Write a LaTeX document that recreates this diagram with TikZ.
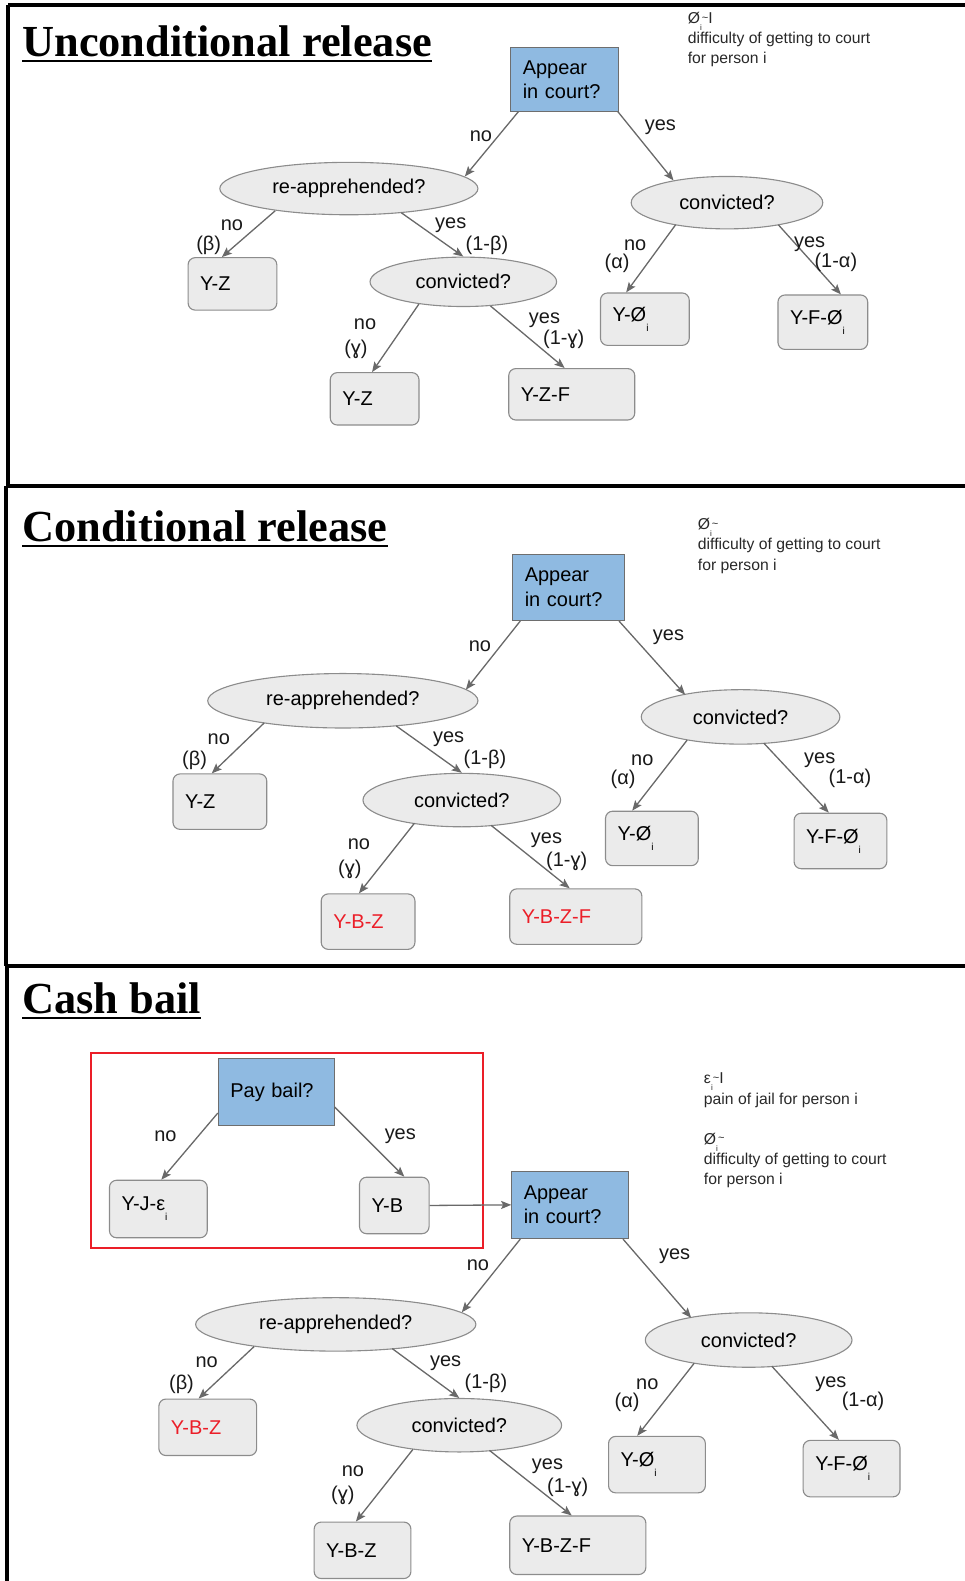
\documentclass[tikz,border=0pt]{standalone}
\usepackage{fontspec}
\setmainfont{Liberation Sans}
\newfontfamily\titlefont{Liberation Serif}
\usetikzlibrary{shapes.geometric,arrows.meta,calc}
\definecolor{bluefill}{RGB}{143,186,225}
\definecolor{qdraw}{RGB}{110,110,110}
\definecolor{leaffill}{RGB}{235,235,235}
\definecolor{leafdraw}{RGB}{140,140,140}
\definecolor{arrcol}{RGB}{105,105,105}
\definecolor{notecol}{RGB}{40,40,40}
\definecolor{redc}{RGB}{235,30,40}
\newcommand\labfont{\fontsize{19.8}{24}\selectfont}
\newcommand\notefont{\fontsize{15.6}{20}\selectfont}
\newcommand\lsub[1]{\raisebox{-0.5em}{\fontsize{10}{10}\selectfont #1}}
\newcommand\nsub[1]{\raisebox{-0.45em}{\fontsize{8}{8}\selectfont #1}}
\newcommand\tld{\raisebox{0.15em}{\fontsize{11}{11}\selectfont\textasciitilde}}
\tikzset{
  qbox/.style={draw=qdraw, fill=bluefill, line width=0.9pt, anchor=north west, inner xsep=12pt, inner ysep=0pt, align=left, font=\labfont},
  leaf/.style={draw=leafdraw, fill=leaffill, rounded corners=7pt, line width=1.1pt, anchor=north west, inner xsep=12pt, inner ysep=0pt, align=left, font=\labfont},
  ell/.style={ellipse, draw=leafdraw, fill=leaffill, line width=1.1pt, inner sep=0pt, font=\labfont},
  arr/.style={draw=arrcol, line width=1.3pt, -{Stealth[length=10pt,width=8pt,inset=2pt]}},
  lbl/.style={font=\labfont, inner sep=0pt, text=black!90, yshift=-2pt},
  note/.style={font=\notefont, text=notecol, anchor=north west, inner sep=0pt, align=left},
  ttl/.style={font=\titlefont\bfseries\fontsize{44}{44}\selectfont, anchor=base west, inner sep=0pt},
  frame/.style={line width=3.2pt, black},
  ulin/.style={line width=2.6pt, black},
}
\newcommand\leafnode[7]{\node[leaf,text width=#4pt,minimum height=#5pt,text=#6] (#1) at (#2,#3) {#7};}
\begin{document}
\begin{tikzpicture}[x=1pt,y=-1pt]
\useasboundingbox (0,0) rectangle (957,1568);
% frame
\draw[frame] (8,5) -- (957,5);
\draw[frame] (8,5) -- (8,482);
\draw[frame] (6,482) -- (957,482);
\draw[frame] (6,482) -- (6,958);
\draw[frame] (6,958) -- (957,958);
\draw[frame] (7,958) -- (7,1568);

% ================= Panel 1 =================
\node[ttl] (t1) at (22,56) {Unconditional release};
\draw[ulin] ($(t1.base west)+(0,4.5)$) -- ($(t1.base east)+(0,4.5)$);
\node[note] (n1) at (682,12) {Ø\nsub{i}\tld I\\difficulty of getting to court\\for person i};

\node[qbox, text width=83pt, minimum height=63pt] (ap1) at (506,47) {Appear\\in court?};
\node[ell, minimum width=256pt, minimum height=52pt] (ra1) at (346,187) {re-apprehended?};
\node[ell, minimum width=190pt, minimum height=52pt] (cv1) at (721,201) {convicted?};
\node[ell, minimum width=185pt, minimum height=49pt] (cv2) at (459.5,279.5) {convicted?};
\leafnode{yz1}{186}{255}{64}{52}{black}{Y-Z}
\leafnode{yz2}{327}{369}{64}{52}{black}{Y-Z}
\leafnode{yzf1}{504}{365}{101}{51}{black}{Y-Z-F}
\leafnode{yo1}{595}{290}{64}{52}{black}{Y-Ø\lsub{i}}
\leafnode{yfo1}{771}{292}{65}{54}{black}{Y-F-Ø\lsub{i}}

\draw[arr] ($(ap1.south west)+(8,0)$) -- ($(ra1)+(115,-12)$);
\draw[arr] ($(ap1.south east)+(-1,0)$) -- ($(cv1)+(-53,-22)$);
\draw[arr] ($(ra1)+(-73,22)$) -- ($(yz1.north west)+(34,0)$);
\draw[arr] ($(ra1)+(52,24)$) -- (cv2.north);
\draw[arr] ($(cv2)+(-44,22)$) -- ($(yz2.north west)+(42,0)$);
\draw[arr] ($(cv2)+(27,24)$) -- ($(yzf1.north west)+(56,0)$);
\draw[arr] ($(cv1)+(-51,22)$) -- ($(yo1.north west)+(26,0)$);
\draw[arr] ($(cv1)+(51,22)$) -- ($(yfo1.north west)+(63,0)$);

\node[lbl] (l1a) at (477,133) {no};
\node[lbl] (l1b) at (655,124) {yes};
\node[lbl] (l1c) at (230,221) {no};
\node[lbl] (l1d) at (207,241) {(β)};
\node[lbl] (l1e) at (447,221) {yes};
\node[lbl] (l1f) at (483,241) {(1-β)};
\node[lbl] (l1g) at (362,320) {no};
\node[lbl] (l1h) at (353,344) {(ɣ)};
\node[lbl] (l1i) at (540,316) {yes};
\node[lbl] (l1j) at (559,335) {(1-ɣ)};
\node[lbl] (l1k) at (630,241) {no};
\node[lbl] (l1l) at (612,259) {(α)};
\node[lbl] (l1m) at (803,240) {yes};
\node[lbl] (l1n) at (829,258) {(1-α)};

% ================= Panel 2 =================
\node[ttl] (t2) at (22,537) {Conditional release};
\draw[ulin] ($(t2.base west)+(0,4.5)$) -- ($(t2.base east)+(0,4.5)$);
\node[note] (n2) at (692,514) {Ø\nsub{i}\tld\\difficulty of getting to court\\for person i};

\node[qbox, text width=87pt, minimum height=66pt] (ap2) at (508,549) {Appear\\in court?};
\node[ell, minimum width=268pt, minimum height=54pt] (ra2) at (340,695) {re-apprehended?};
\node[ell, minimum width=197pt, minimum height=54pt] (cv3) at (734.5,711) {convicted?};
\node[ell, minimum width=196pt, minimum height=53pt] (cv4) at (458,793.5) {convicted?};
\leafnode{yz3}{171}{767}{69}{55}{black}{Y-Z}
\leafnode{ybz1}{318}{886}{69}{55}{redc}{Y-B-Z}
\leafnode{ybzf1}{505}{881}{107}{55}{redc}{Y-B-Z-F}
\leafnode{yo2}{600}{804}{68}{54}{black}{Y-Ø\lsub{i}}
\leafnode{yfo2}{787}{806}{68}{55}{black}{Y-F-Ø\lsub{i}}

\draw[arr] ($(ap2.south west)+(8,0)$) -- ($(ra2)+(122,-11)$);
\draw[arr] ($(ap2.south east)+(-6,0)$) -- ($(cv3)+(-55,-22)$);
\draw[arr] ($(ra2)+(-78,22)$) -- ($(yz3.north west)+(39,0)$);
\draw[arr] ($(ra2)+(53,25)$) -- (cv4.north);
\draw[arr] ($(cv4)+(-47,23)$) -- ($(ybz1.north west)+(38,0)$);
\draw[arr] ($(cv4)+(29,25)$) -- ($(ybzf1.north west)+(60,0)$);
\draw[arr] ($(cv3)+(-53,23)$) -- ($(yo2.north west)+(27,0)$);
\draw[arr] ($(cv3)+(23,26)$) -- ($(yfo2.north west)+(35,0)$);

\node[lbl] (l2a) at (476,639) {no};
\node[lbl] (l2b) at (663,630) {yes};
\node[lbl] (l2c) at (217,731) {no};
\node[lbl] (l2d) at (193,752) {(β)};
\node[lbl] (l2e) at (445,731) {yes};
\node[lbl] (l2f) at (481,751) {(1-β)};
\node[lbl] (l2g) at (356,835) {no};
\node[lbl] (l2h) at (347,860) {(ɣ)};
\node[lbl] (l2i) at (542,831) {yes};
\node[lbl] (l2j) at (562,852) {(1-ɣ)};
\node[lbl] (l2k) at (637,752) {no};
\node[lbl] (l2l) at (618,771) {(α)};
\node[lbl] (l2m) at (813,752) {yes};
\node[lbl] (l2n) at (843,770) {(1-α)};

% ================= Panel 3 =================
\node[ttl] (t3) at (22,1005) {Cash bail};
\draw[ulin] ($(t3.base west)+(0,4.5)$) -- ($(t3.base east)+(0,4.5)$);
\node[note] (n3) at (698,1064) {ε\nsub{i}\tld I\\pain of jail for person i\\[20pt]Ø\nsub{i}\tld\\difficulty of getting to court\\for person i};

\node[draw=redc, line width=2pt, minimum width=389pt, minimum height=194pt, anchor=north west, inner sep=0pt] (rb) at (89,1043) {};
\node[qbox, text width=91pt, minimum height=67pt] (pb) at (216,1049) {Pay bail?};
\leafnode{yj}{108}{1170}{73}{57}{black}{Y-J-ε\lsub{i}}
\leafnode{yb}{356}{1167}{45}{56}{black}{Y-B}
\node[qbox, text width=92pt, minimum height=67pt] (ap3) at (507,1161) {Appear\\in court?};
\node[ell, minimum width=278pt, minimum height=53pt] (ra3) at (333,1313.5) {re-apprehended?};
\node[ell, minimum width=205pt, minimum height=54pt] (cv5) at (742.5,1329) {convicted?};
\node[ell, minimum width=203pt, minimum height=53pt] (cv6) at (455.5,1413.5) {convicted?};
\leafnode{ybz2}{157}{1387}{73}{56}{redc}{Y-B-Z}
\leafnode{ybz3}{311}{1509}{72}{56}{black}{Y-B-Z}
\leafnode{ybzf2}{505}{1503}{111}{58}{black}{Y-B-Z-F}
\leafnode{yo3}{603}{1424}{72}{56}{black}{Y-Ø\lsub{i}}
\leafnode{yfo3}{796}{1428}{72}{56}{black}{Y-F-Ø\lsub{i}}

\draw[arr] ($(pb.south west)+(0,-13)$) -- ($(yj.north west)+(52,0)$);
\draw[arr] ($(pb.south east)+(0,-19)$) -- ($(yb.north west)+(45,0)$);
\draw[arr] (yb.east) -- (ap3.west);
\draw[arr] ($(ap3.south west)+(9,0)$) -- ($(ra3)+(125,-12)$);
\draw[arr] ($(ap3.south east)+(-6,0)$) -- ($(cv5)+(-57,-22)$);
\draw[arr] ($(ra3)+(-81,22)$) -- ($(ybz2.north west)+(40,0)$);
\draw[arr] ($(ra3)+(56,24)$) -- (cv6.north);
\draw[arr] ($(cv6)+(-46,24)$) -- ($(ybz3.north west)+(42,0)$);
\draw[arr] ($(cv6)+(30,25)$) -- ($(ybzf2.north west)+(62,0)$);
\draw[arr] ($(cv5)+(-54,23)$) -- ($(yo3.north west)+(29,0)$);
\draw[arr] ($(cv5)+(23,26)$) -- ($(yfo3.north west)+(36,0)$);

\node[lbl] (l3a) at (164,1125) {no};
\node[lbl] (l3b) at (397,1125) {yes};
\node[lbl] (l3c) at (474,1253) {no};
\node[lbl] (l3d) at (669,1244) {yes};
\node[lbl] (l3e) at (205,1349) {no};
\node[lbl] (l3f) at (180,1371) {(β)};
\node[lbl] (l3g) at (442,1350) {yes};
\node[lbl] (l3h) at (482,1370) {(1-β)};
\node[lbl] (l3i) at (350,1457) {no};
\node[lbl] (l3j) at (340,1481) {(ɣ)};
\node[lbl] (l3k) at (543,1452) {yes};
\node[lbl] (l3l) at (563,1473) {(1-ɣ)};
\node[lbl] (l3m) at (642,1371) {no};
\node[lbl] (l3n) at (622,1389) {(α)};
\node[lbl] (l3o) at (824,1371) {yes};
\node[lbl] (l3p) at (856,1388) {(1-α)};
\end{tikzpicture}
\end{document}
